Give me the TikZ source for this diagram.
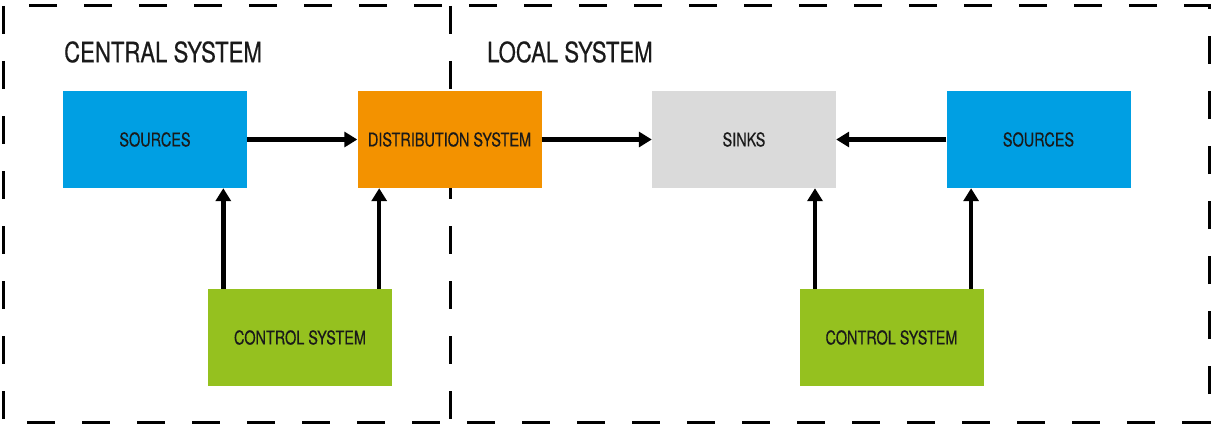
\documentclass[tikz,border=0pt]{standalone}
\usepackage{fontspec}
\setmainfont{TeX Gyre Heros}
\newfontfamily\condfont{TeX Gyre Heros}[FakeStretch=0.76,FakeBold=0.4]
\newfontfamily\titlefont{TeX Gyre Heros}[FakeStretch=0.79,FakeBold=0.5]
\usetikzlibrary{arrows.meta}
\definecolor{srcblue}{HTML}{009FE3}
\definecolor{distorange}{HTML}{F39200}
\definecolor{sinkgrey}{HTML}{DADADA}
\definecolor{ctlgreen}{HTML}{95C11F}
\definecolor{txt}{HTML}{1A1A1A}
\begin{document}
\begin{tikzpicture}[x=1pt,y=-1pt,
  box/.style={draw=none, minimum width=184pt, minimum height=97pt, inner sep=0pt,
    font=\condfont\fontsize{19}{19}\selectfont, text=txt},
  arr/.style={line width=4.5pt, -{Triangle[length=13pt,width=15pt]}},
  frame/.style={line width=3pt, dash pattern=on 28pt off 27pt},
  title/.style={anchor=west, inner sep=0pt, text=txt,
    font=\titlefont\fontsize{28}{28}\selectfont}]
\useasboundingbox (0,0) rectangle (1212,428);
\draw[frame] (3,6) rectangle (1209,422);
\draw[frame] (450,6) -- (450,422);
\node[title] (central) at (64,52) {CENTRAL SYSTEM};
\node[title] (local) at (487,52) {LOCAL SYSTEM};
\node[box, fill=srcblue] (src1) at (155,139.5) {SOURCES};
\node[box, fill=distorange] (dist) at (449.5,139.5) {DISTRIBUTION SYSTEM};
\node[box, fill=sinkgrey] (sinks) at (744,139.5) {SINKS};
\node[box, fill=srcblue] (src2) at (1038.5,139.5) {SOURCES};
\node[box, fill=ctlgreen] (ctl1) at (300,337.5) {CONTROL SYSTEM};
\node[box, fill=ctlgreen] (ctl2) at (891.5,337.5) {CONTROL SYSTEM};
\draw[arr] (src1.east) -- (dist.west);
\draw[arr] (dist.east) -- (sinks.west);
\draw[arr] (src2.west) -- (sinks.east);
\draw[arr] ([xshift=15.5pt]ctl1.north west) -- ([xshift=15.5pt]ctl1.north west |- src1.south);
\draw[arr] ([xshift=-13pt]ctl1.north east) -- ([xshift=-13pt]ctl1.north east |- dist.south);
\draw[arr] ([xshift=15.7pt]ctl2.north west) -- ([xshift=15.7pt]ctl2.north west |- sinks.south);
\draw[arr] ([xshift=-12.6pt]ctl2.north east) -- ([xshift=-12.6pt]ctl2.north east |- src2.south);
\end{tikzpicture}
\end{document}
